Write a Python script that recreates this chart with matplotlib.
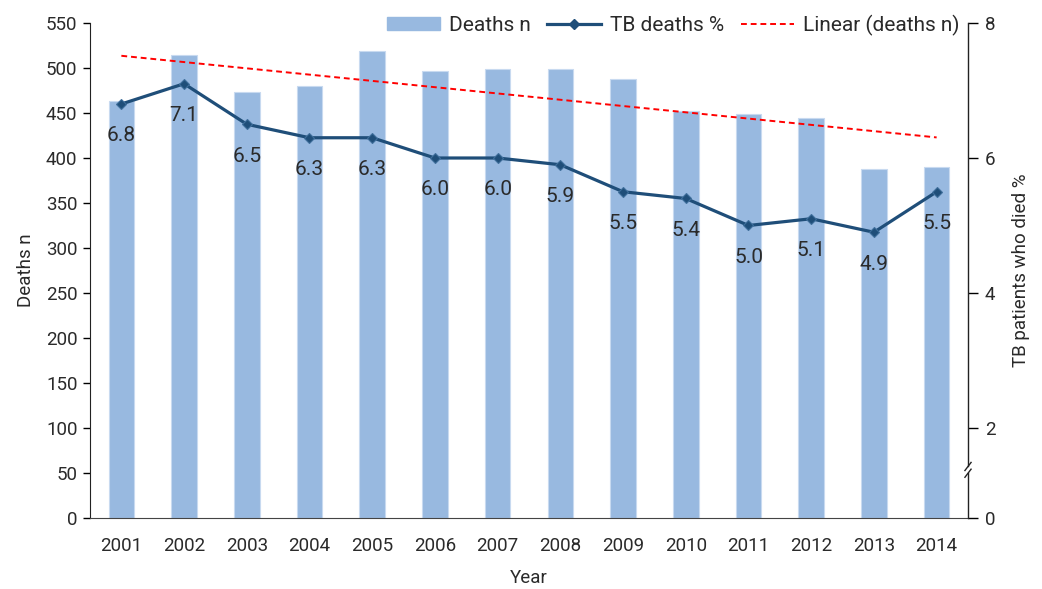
import matplotlib
matplotlib.use('Agg')
import matplotlib.pyplot as plt
from matplotlib.patches import Patch
from matplotlib.lines import Line2D
import numpy as np

plt.rcParams['font.family'] = ['Roboto', 'DejaVu Sans']

# data
years = ['2001', '2002', '2003', '2004', '2005', '2006', '2007',
         '2008', '2009', '2010', '2011', '2012', '2013', '2014']
deaths_n = [463, 514, 473, 480, 519, 497, 499, 499, 488, 452, 449, 444, 388, 390]
tb_deaths_pct = [6.8, 7.1, 6.5, 6.3, 6.3, 6.0, 6.0, 5.9, 5.5, 5.4, 5.0, 5.1, 4.9, 5.5]
right_ticks = [2, 4, 6, 8]

bar_col = '#98b9e0'
line_col = '#1f4e79'
txt_col = '#2a2a2a'
fs = 13.5

fig = plt.figure(figsize=(10.42, 5.89), dpi=100)
ax = fig.add_axes([90/1042, 1-518/589, 878/1042, 495/589])
x = np.arange(len(years))

ax.bar(x, deaths_n, width=0.41, color=bar_col, edgecolor='#c8daf0', linewidth=0.8, zorder=2)

# linear trendline of the bar values
k, b = np.polyfit(x, deaths_n, 1)
ax.plot(x, k*x + b, color='#ff0000', linestyle=(0, (3, 2)), linewidth=1.4, zorder=3)

ax.set_xlim(-0.5, len(years) - 0.5)
ax.set_ylim(0, 550)
ax.set_yticks(np.arange(0, 551, 50))
ax.set_xticks(x)
ax.set_xticklabels(years)
ax.tick_params(axis='x', length=0, pad=14, labelsize=fs, labelcolor=txt_col)
ax.tick_params(axis='y', length=5, width=1, labelsize=fs, labelcolor=txt_col, pad=4)
ax.set_ylabel('Deaths n', fontsize=fs, color=txt_col, labelpad=8)
ax.set_xlabel('Year', fontsize=fs, color=txt_col, labelpad=10)
for s in ['top', 'right']:
    ax.spines[s].set_visible(False)
ax.spines['left'].set_color('#222222')
ax.spines['bottom'].set_color('#444444')

# right axis: 2..8 linear, broken down to 0
ax2 = ax.twinx()
px_per_unit = 67.5
y0 = right_ticks[-1] - 495/px_per_unit
ax2.set_ylim(y0, right_ticks[-1])
ax2.set_yticks([y0] + right_ticks)
ax2.set_yticklabels(['0'] + [str(t) for t in right_ticks])
ax2.tick_params(axis='y', length=7, width=1, labelsize=fs, labelcolor=txt_col, pad=5)
for s in ['top', 'left', 'bottom', 'right']:
    ax2.spines[s].set_visible(False)
ax2.set_ylabel('TB patients who died %', fontsize=fs, color=txt_col, labelpad=12)

brk_lo, brk_hi = 1.33, 1.43
ax2.plot([1, 1], [y0, brk_lo], transform=ax2.get_yaxis_transform(), color='#222222',
         linewidth=1, clip_on=False)
ax2.plot([1, 1], [brk_hi, right_ticks[-1]], transform=ax2.get_yaxis_transform(), color='#222222',
         linewidth=1, clip_on=False)
for yb in (brk_lo, brk_hi):
    ax2.plot([0.9965, 1.0035], [yb - 0.06, yb + 0.06], transform=ax2.get_yaxis_transform(),
             color='#222222', linewidth=1, clip_on=False)

ax2.plot(x, tb_deaths_pct, color=line_col, linewidth=2.3, marker='D', markersize=5,
         markerfacecolor=line_col, markeredgecolor='#3f6f9c', markeredgewidth=0.8, zorder=4)
for xi, v in zip(x, tb_deaths_pct):
    ax2.annotate(f'{v:.1f}', (xi, v), xytext=(0, -23), textcoords='offset points',
                 ha='center', va='center', fontsize=15, color=txt_col)

handles = [Patch(facecolor=bar_col, edgecolor=bar_col),
           Line2D([0], [0], color=line_col, linewidth=2.3, marker='D', markersize=5),
           Line2D([0], [0], color='#ff0000', linestyle=(0, (3, 2)), linewidth=1.4)]
labels = ['Deaths n', 'TB deaths %', 'Linear (deaths n)']
ax.legend(handles, labels, loc='upper right', bbox_to_anchor=(1.012, 1.055), ncol=3,
          frameon=False, fontsize=15, handlelength=2.55, handleheight=0.6,
          columnspacing=0.8, handletextpad=0.45, labelcolor=txt_col)

fig.savefig('out.png', dpi=100)
